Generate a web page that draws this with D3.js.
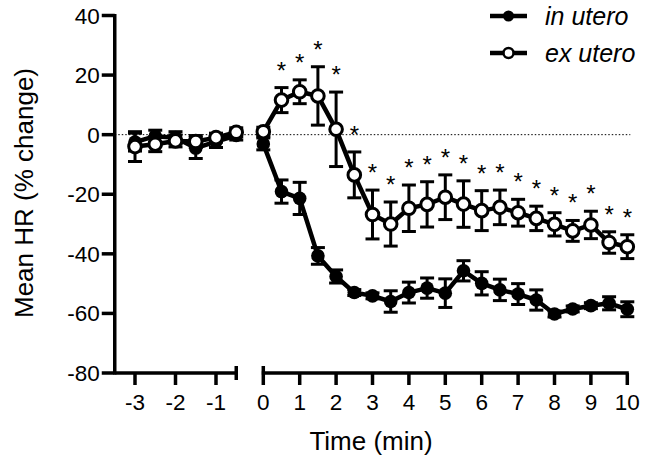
<!DOCTYPE html>
<html><head><meta charset="utf-8">
<script src="https://cdn.jsdelivr.net/npm/d3@7"></script>
<style>
html,body{margin:0;padding:0;background:#fff;}
svg{display:block;}
text{font-family:"Liberation Sans",Arial,sans-serif;fill:#000;}
</style></head>
<body>
<svg id="chart" width="650" height="461"></svg>
<script>
// ---- data ----
const preTimes = [-3, -2.5, -2, -1.5, -1, -0.5];
const postTimes = [0, 0.5, 1, 1.5, 2, 2.5, 3, 3.5, 4, 4.5, 5, 5.5, 6, 6.5, 7, 7.5, 8, 8.5, 9, 9.5, 10];

const inUteroPre = [-2.5, -0.5, -1.0, -4.5, -2.3, -0.3];
const inUteroPreErr = [3, 2, 2, 3.5, 2, 1.5];
const exUteroPre = [-4.0, -3.2, -2.1, -2.3, -1.0, 0.8];
const exUteroPreErr = [5, 2.5, 2, 2, 1.5, 1.5];

const inUteroPost = [-3.1, -19.1, -21.4, -40.7, -47.6, -53.0, -54.1, -56.0, -53.0, -51.5, -53.2, -45.7, -49.9, -52.1, -53.5, -55.5, -60.2, -58.5, -57.4, -56.6, -58.6];
const inUteroPostErr = [2, 3.9, 5.4, 2.8, 2.2, 1, 1, 3.6, 3.5, 3.4, 4.8, 3.4, 3.9, 3.6, 3.5, 3.4, 1, 1, 1, 2.2, 2.5];
const exUteroPost = [1.0, 11.6, 14.4, 13.0, 1.8, -13.5, -26.8, -30.0, -24.7, -23.4, -21.0, -23.3, -25.5, -24.4, -26.2, -28.1, -30.1, -32.3, -30.3, -36.2, -37.6];
const exUteroPostErr = [1.5, 4.2, 4, 9.8, 12.5, 7.7, 8.2, 7.4, 7.8, 7.6, 7.5, 7.8, 6.7, 5.8, 4.5, 4.1, 3.9, 3.5, 4.6, 3.6, 4];

const sigTimes = [0.5, 1, 1.5, 2, 2.5, 3, 3.5, 4, 4.5, 5, 5.5, 6, 6.5, 7, 7.5, 8, 8.5, 9, 9.5, 10];

const yTicks = [40, 20, 0, -20, -40, -60, -80];
const xTicksPre = [-3, -2, -1];
const xTicksPost = [0, 1, 2, 3, 4, 5, 6, 7, 8, 9, 10];
const seriesNames = ["in utero", "ex utero"];

// ---- scales ----
const y = d3.scaleLinear().domain([-80, 40]).range([373, 15.5]);
const xPre = d3.scaleLinear().domain([-3.5, -0.5]).range([114.75, 236.25]);
const xPost = d3.scaleLinear().domain([0, 10]).range([263.3, 627.3]);

const svg = d3.select("#chart");
const TICK_FS = 22.5;

// zero reference line
svg.append("line")
  .attr("x1", xPre(-3.5)).attr("x2", xPost(10) + 3)
  .attr("y1", y(0)).attr("y2", y(0))
  .attr("stroke", "#000").attr("stroke-width", 1).attr("stroke-dasharray", "1.5,2");

// ---- axes ----
const axisG = svg.append("g");
// y axis
axisG.append("line").attr("x1", xPre(-3.5)).attr("x2", xPre(-3.5))
  .attr("y1", y(40) - 1.5).attr("y2", y(-80) + 1.5)
  .attr("stroke", "#000").attr("stroke-width", 3.5);
yTicks.forEach(t => {
  axisG.append("line").attr("x1", xPre(-3.5) - 13).attr("x2", xPre(-3.5))
    .attr("y1", y(t)).attr("y2", y(t)).attr("stroke", "#000").attr("stroke-width", 3.5);
  axisG.append("text")
    .attr("x", xPre(-3.5) - 15).attr("y", y(t) + 8)
    .attr("text-anchor", "end").attr("font-size", TICK_FS).text(t);
});
// x axis pre segment
axisG.append("line").attr("x1", xPre(-3.5)).attr("x2", xPre(-0.5) + 1.5)
  .attr("y1", y(-80)).attr("y2", y(-80)).attr("stroke", "#000").attr("stroke-width", 3.5);
axisG.append("line").attr("x1", xPre(-0.5)).attr("x2", xPre(-0.5))
  .attr("y1", y(-80) - 7).attr("y2", y(-80) + 7).attr("stroke", "#000").attr("stroke-width", 3.5);
xTicksPre.forEach(t => {
  axisG.append("line").attr("x1", xPre(t)).attr("x2", xPre(t))
    .attr("y1", y(-80)).attr("y2", y(-80) + 12).attr("stroke", "#000").attr("stroke-width", 3.5);
  axisG.append("text")
    .attr("x", xPre(t)).attr("y", y(-80) + 37)
    .attr("text-anchor", "middle").attr("font-size", TICK_FS).text(t);
});
// x axis post segment
axisG.append("line").attr("x1", xPost(0) - 1.5).attr("x2", xPost(10) + 1.5)
  .attr("y1", y(-80)).attr("y2", y(-80)).attr("stroke", "#000").attr("stroke-width", 3.5);
axisG.append("line").attr("x1", xPost(0)).attr("x2", xPost(0))
  .attr("y1", y(-80) - 7).attr("y2", y(-80)).attr("stroke", "#000").attr("stroke-width", 3.5);
xTicksPost.forEach(t => {
  axisG.append("line").attr("x1", xPost(t)).attr("x2", xPost(t))
    .attr("y1", y(-80)).attr("y2", y(-80) + 12).attr("stroke", "#000").attr("stroke-width", 3.5);
  axisG.append("text")
    .attr("x", xPost(t)).attr("y", y(-80) + 37)
    .attr("text-anchor", "middle").attr("font-size", TICK_FS).text(t);
});
// axis titles
svg.append("text")
  .attr("x", (xPre(-3.5) + xPost(10)) / 2).attr("y", y(-80) + 77)
  .attr("text-anchor", "middle").attr("font-size", 26).text("Time (min)");
svg.append("text")
  .attr("transform", `translate(33,193) rotate(-90)`)
  .attr("text-anchor", "middle").attr("font-size", 26).text("Mean HR (% change)");

// ---- series ----
function drawSeries(times, vals, errs, xs, filled) {
  const g = svg.append("g");
  const pts = times.map((t, i) => ({ t, v: vals[i], e: errs[i] }));
  pts.forEach(p => {
    const cx = xs(p.t);
    g.append("line").attr("x1", cx).attr("x2", cx).attr("y1", y(p.v + p.e)).attr("y2", y(p.v - p.e))
      .attr("stroke", "#000").attr("stroke-width", 3);
    [p.v + p.e, p.v - p.e].forEach(v => {
      g.append("line").attr("x1", cx - 7).attr("x2", cx + 7).attr("y1", y(v)).attr("y2", y(v))
        .attr("stroke", "#000").attr("stroke-width", 3);
    });
  });
  g.append("path").datum(pts)
    .attr("d", d3.line().x(p => xs(p.t)).y(p => y(p.v)))
    .attr("fill", "none").attr("stroke", "#000").attr("stroke-width", 4.5).attr("stroke-linejoin", "round");
  g.selectAll("circle.m").data(pts).join("circle")
    .attr("cx", p => xs(p.t)).attr("cy", p => y(p.v))
    .attr("r", filled ? 6.8 : 6.3)
    .attr("fill", filled ? "#000" : "#fff")
    .attr("stroke", "#000").attr("stroke-width", filled ? 0 : 3);
}
drawSeries(preTimes, inUteroPre, inUteroPreErr, xPre, true);
drawSeries(postTimes, inUteroPost, inUteroPostErr, xPost, true);
drawSeries(preTimes, exUteroPre, exUteroPreErr, xPre, false);
drawSeries(postTimes, exUteroPost, exUteroPostErr, xPost, false);

// significance stars
sigTimes.forEach(t => {
  const i = postTimes.indexOf(t);
  svg.append("text")
    .attr("x", xPost(t)).attr("y", y(exUteroPost[i] + exUteroPostErr[i]) - 23 + 14)
    .attr("text-anchor", "middle").attr("font-size", 24).text("*");
});

// ---- legend ----
const lg = svg.append("g");
seriesNames.forEach((name, i) => {
  const ly = 16 + i * 37;
  lg.append("line").attr("x1", 490).attr("x2", 527).attr("y1", ly).attr("y2", ly)
    .attr("stroke", "#000").attr("stroke-width", 4.5);
  lg.append("circle").attr("cx", 508.5).attr("cy", ly).attr("r", i === 0 ? 5.5 : 5)
    .attr("fill", i === 0 ? "#000" : "#fff").attr("stroke", "#000").attr("stroke-width", i === 0 ? 0 : 2.5);
  lg.append("text")
    .attr("x", 545).attr("y", ly + 8.5)
    .attr("font-size", 25).attr("font-style", "italic").text(name);
});
</script>
</body></html>
